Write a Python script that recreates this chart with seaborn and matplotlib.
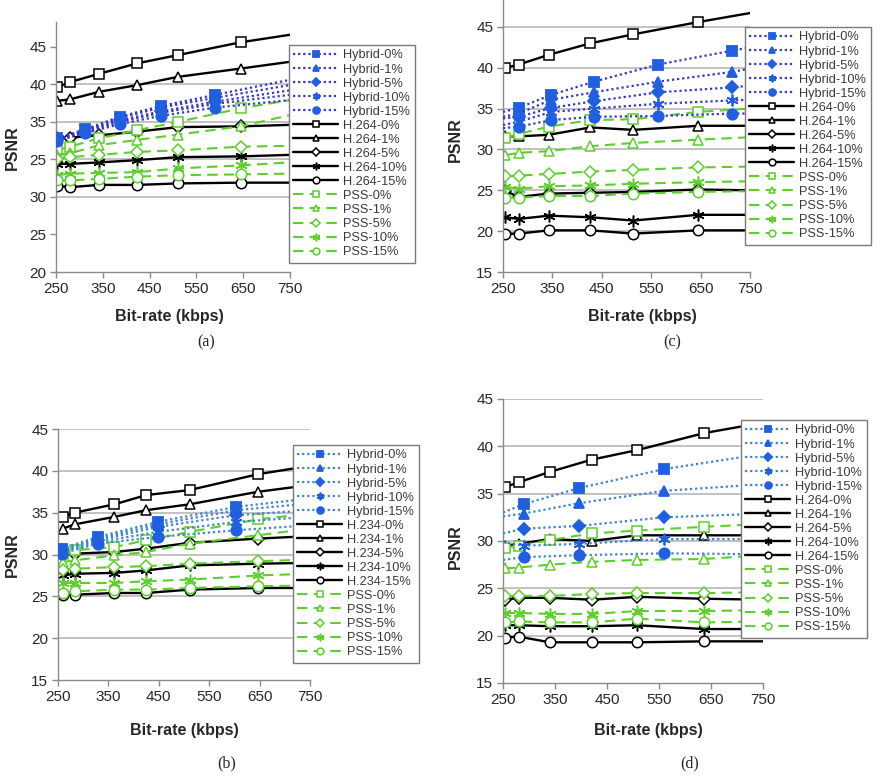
import matplotlib
matplotlib.use('Agg')
import matplotlib.pyplot as plt
from matplotlib.lines import Line2D
import seaborn as sns

LEVELS = ['0%', '1%', '5%', '10%', '15%']

# ---- panel (a) ----
a_x = [253, 280, 342, 424, 511, 645, 750]
a_h264 = [
    [39.6, 40.3, 41.4, 42.8, 43.9, 45.6, 46.6],
    [37.8, 38.0, 39.0, 39.9, 41.0, 42.1, 43.0],
    [32.8, 32.9, 33.2, 33.7, 34.3, 34.4, 34.6],
    [29.4, 29.4, 29.6, 29.9, 30.3, 30.4, 30.6],
    [26.5, 26.3, 26.6, 26.6, 26.8, 26.9, 26.9],
]
a_pss = [
    [31.2, 31.7, 32.8, 33.9, 35.0, 36.8, 37.9],
    [30.6, 30.8, 31.9, 32.6, 33.3, 34.4, 35.9],
    [30.1, 30.3, 30.6, 31.0, 31.2, 31.7, 31.8],
    [27.9, 28.1, 28.2, 28.3, 28.8, 29.2, 29.6],
    [27.2, 27.2, 27.4, 27.7, 27.9, 28.0, 28.1],
]
a_hyb_x = [253, 312, 387, 474, 590, 750]
a_hybrid = [
    [32.8, 34.0, 35.7, 37.1, 38.6, 40.6],
    [32.7, 33.9, 35.5, 36.9, 38.2, 39.9],
    [32.7, 33.8, 35.2, 36.4, 37.7, 39.2],
    [32.6, 33.7, 35.0, 36.2, 37.4, 38.6],
    [32.5, 33.5, 34.7, 35.8, 36.9, 37.9],
]
a_yticklabels = ['20', '25', '30', '25', '35', '40', '45']

# ---- panel (b) ----
b_x = [260, 283, 362, 425, 511, 647, 750]
b_h264 = [
    [34.5, 35.0, 36.0, 37.1, 37.7, 39.6, 40.6],
    [33.1, 33.6, 34.5, 35.3, 36.0, 37.5, 38.3],
    [29.9, 30.1, 30.3, 30.7, 31.4, 31.9, 32.2],
    [27.5, 27.7, 27.8, 28.1, 28.7, 28.9, 29.0],
    [25.2, 25.2, 25.4, 25.4, 25.8, 26.0, 26.0],
]
b_pss = [
    [30.1, 30.5, 30.9, 31.7, 32.7, 34.2, 34.9],
    [29.1, 29.3, 29.9, 30.3, 31.3, 32.3, 33.1],
    [28.2, 28.3, 28.5, 28.6, 28.9, 29.2, 29.4],
    [26.6, 26.6, 26.6, 26.8, 27.0, 27.5, 27.7],
    [25.4, 25.6, 25.8, 25.8, 26.0, 26.2, 26.3],
]
b_hyb_x = [257, 329, 448, 604, 750]
b_hybrid = [
    [30.7, 32.1, 33.9, 35.7, 36.7],
    [30.6, 31.9, 33.6, 35.3, 36.1],
    [30.5, 31.7, 33.3, 34.7, 35.3],
    [30.3, 31.5, 32.7, 33.9, 34.5],
    [30.1, 31.3, 32.1, 32.9, 33.5],
]

# ---- panel (c) ----
c_x = [255, 282, 343, 427, 514, 645, 750]
c_h264 = [
    [40.0, 40.4, 41.6, 43.0, 44.1, 45.6, 46.7],
    [31.6, 31.6, 31.8, 32.7, 32.4, 32.9, 32.9],
    [24.9, 24.2, 24.6, 24.7, 24.8, 25.1, 25.0],
    [21.7, 21.5, 21.9, 21.7, 21.3, 22.0, 22.0],
    [19.7, 19.7, 20.1, 20.1, 19.7, 20.1, 20.1],
]
c_pss = [
    [31.4, 31.9, 32.8, 33.6, 33.7, 34.6, 35.0],
    [29.3, 29.6, 29.8, 30.4, 30.8, 31.2, 31.5],
    [26.7, 26.8, 27.0, 27.3, 27.5, 27.8, 27.9],
    [25.4, 25.2, 25.5, 25.6, 25.8, 26.0, 26.1],
    [24.1, 24.1, 24.3, 24.3, 24.6, 24.8, 24.9],
]
c_hyb_x = [250, 282, 348, 434, 564, 714, 750]
c_hybrid = [
    [34.6, 35.1, 36.7, 38.3, 40.4, 42.1, 42.5],
    [34.0, 34.4, 36.1, 37.0, 38.3, 39.5, 39.9],
    [33.8, 34.0, 35.1, 35.9, 37.0, 37.6, 37.8],
    [33.0, 33.4, 34.6, 35.0, 35.6, 36.0, 36.1],
    [32.6, 32.8, 33.6, 34.0, 34.1, 34.4, 34.4],
]

# ---- panel (d) ----
d_x = [254, 280, 340, 421, 508, 637, 750]
d_h264 = [
    [35.7, 36.2, 37.3, 38.6, 39.6, 41.4, 42.5],
    [29.5, 29.7, 30.2, 30.0, 30.6, 30.6, 30.6],
    [23.8, 24.0, 24.0, 23.8, 24.1, 23.9, 23.8],
    [21.1, 21.1, 21.0, 21.0, 21.1, 20.7, 20.7],
    [19.8, 19.9, 19.3, 19.3, 19.3, 19.4, 19.4],
]
d_pss = [
    [29.3, 29.5, 30.1, 30.8, 31.1, 31.5, 31.8],
    [27.1, 27.2, 27.5, 27.8, 28.0, 28.1, 28.5],
    [24.2, 24.2, 24.2, 24.4, 24.5, 24.5, 24.6],
    [22.4, 22.4, 22.3, 22.3, 22.6, 22.6, 22.7],
    [21.4, 21.5, 21.4, 21.4, 21.8, 21.4, 21.5],
]
d_hyb_x = [250, 290, 397, 560, 750]
d_hybrid = [
    [33.0, 33.9, 35.6, 37.6, 39.2],
    [32.6, 32.9, 34.0, 35.3, 36.0],
    [30.8, 31.3, 31.6, 32.5, 32.9],
    [29.9, 29.5, 29.7, 30.2, 30.2],
    [28.0, 28.3, 28.5, 28.7, 28.6],
]

YTICKS = [15, 20, 25, 30, 35, 40, 45]
XTICKS = [250, 350, 450, 550, 650, 750]

W, H = 885, 779
BLUE = '#1f5fe0'
GREEN = '#5ccf2a'
MARKERS = ['s', '^', 'D', (6, 2, 0), 'o']
MSIZE = [7.2, 7.5, 6, 8.5, 7.5]

panels = [
    dict(cap='(a)', x=a_x, h264=a_h264, pss=a_pss, hx=a_hyb_x, hyb=a_hybrid, codec='H.264',
         box=(56, 22, 290, 272), ylim=(15, 48.3), ytl=a_yticklabels, nogrid=[15, 20, 45],
         leg=(289, 45), xlab=(169, 317), ylab=(12, 148), capxy=(206, 342), hline='#3535d0'),
    dict(cap='(c)', x=c_x, h264=c_h264, pss=c_pss, hx=c_hyb_x, hyb=c_hybrid, codec='H.264',
         box=(503, 0, 750, 272), ylim=(15, 48.3), ytl=None, nogrid=[15],
         leg=(745, 27), xlab=(642, 317), ylab=(455, 140), capxy=(672, 342), hline='#3535d0'),
    dict(cap='(b)', x=b_x, h264=b_h264, pss=b_pss, hx=b_hyb_x, hyb=b_hybrid, codec='H.234',
         box=(58, 429, 310, 680), ylim=(15, 45), ytl=None, nogrid=[15],
         leg=(293, 445), xlab=(184, 731), ylab=(12, 555), capxy=(227, 763), hline='#3b82d8'),
    dict(cap='(d)', x=d_x, h264=d_h264, pss=d_pss, hx=d_hyb_x, hyb=d_hybrid, codec='H.264',
         box=(503, 399, 763, 683), ylim=(15, 45), ytl=None, nogrid=[15],
         leg=(741, 420), xlab=(648, 731), ylab=(455, 547), capxy=(690, 763), hline='#3b82d8'),
]


def inner(xs):
    # points lying on the plot edge are only line continuations, no marker
    return [i for i, v in enumerate(xs) if v not in (250, 750)]


sns.set_style('white')
plt.rcParams['font.family'] = ['Liberation Sans', 'DejaVu Sans']

fig = plt.figure(figsize=(W / 100, H / 100), dpi=100)

for p in panels:
    x0, y0, x1, y1 = p['box']
    ax = fig.add_axes([x0 / W, 1 - y1 / H, (x1 - x0) / W, (y1 - y0) / H])
    handles = []

    for lvl, m, ms, vals in zip(LEVELS, MARKERS, MSIZE, p['hyb']):
        st = dict(color=p['hline'], linestyle=(0, (1, 1.3)), linewidth=1.6, marker=m, markersize=ms,
                  markerfacecolor=BLUE, markeredgecolor=BLUE, markeredgewidth=1.3)
        sns.lineplot(x=p['hx'], y=vals, ax=ax, estimator=None, sort=False,
                     markevery=inner(p['hx']), zorder=3, **st)
        handles.append(Line2D([], [], label=f'Hybrid-{lvl}', **st))

    for lvl, m, ms, vals in zip(LEVELS, MARKERS, MSIZE, p['h264']):
        st = dict(color='black', linestyle='-', linewidth=1.7, marker=m, markersize=ms,
                  markerfacecolor='white', markeredgecolor='black', markeredgewidth=1.1)
        sns.lineplot(x=p['x'], y=vals, ax=ax, estimator=None, sort=False,
                     markevery=inner(p['x']), zorder=2, **st)
        handles.append(Line2D([], [], label=f"{p['codec']}-{lvl}", **st))

    for lvl, m, ms, vals in zip(LEVELS, MARKERS, MSIZE, p['pss']):
        st = dict(color=GREEN, linestyle=(0, (5, 3)), linewidth=1.5, marker=m, markersize=ms,
                  markerfacecolor='white', markeredgecolor=GREEN, markeredgewidth=1.1)
        sns.lineplot(x=p['x'], y=vals, ax=ax, estimator=None, sort=False,
                     markevery=inner(p['x']), zorder=2.5, **st)
        handles.append(Line2D([], [], label=f'PSS-{lvl}', **st))

    ax.set_xlim(250, 750)
    ax.set_ylim(*p['ylim'])
    ax.set_xticks(XTICKS)
    ax.set_yticks(YTICKS)
    if p['ytl'] is not None:
        ax.set_yticklabels(p['ytl'])
    ax.grid(axis='y', color='#bdbdbd', linewidth=1.3)
    ax.set_axisbelow(True)
    for val, gl in zip(YTICKS, ax.get_ygridlines()):
        if val in p['nogrid']:
            gl.set_visible(False)

    for side in ['top', 'right']:
        ax.spines[side].set_visible(False)
    for side in ['left', 'bottom']:
        ax.spines[side].set_color('#8a8a8a')
        ax.spines[side].set_linewidth(1.0)
    ax.tick_params(axis='both', length=4, width=1, color='#8a8a8a', labelsize=11,
                   labelcolor='#262626', pad=3, left=True, bottom=True)

    ax.set_xlabel('Bit-rate (kbps)', fontsize=11.5, fontweight='bold', va='center')
    ax.xaxis.set_label_coords(p['xlab'][0] / W, 1 - p['xlab'][1] / H, transform=fig.transFigure)
    ax.set_ylabel('PSNR', fontsize=11.5, fontweight='bold', va='center')
    ax.yaxis.set_label_coords(p['ylab'][0] / W, 1 - p['ylab'][1] / H, transform=fig.transFigure)

    leg = ax.legend(handles=handles, loc='upper left',
                    bbox_to_anchor=(p['leg'][0] / W, 1 - p['leg'][1] / H),
                    bbox_transform=fig.transFigure, fontsize=9.2, labelspacing=0.16,
                    handlelength=3.5, handletextpad=0.4, borderpad=0.35, borderaxespad=0,
                    markerscale=0.65, frameon=True, fancybox=False, framealpha=1,
                    edgecolor='#7a7a7a', labelcolor='#3a3a3a')
    leg.get_frame().set_linewidth(1.0)
    leg.set_zorder(10)

    fig.text(p['capxy'][0] / W, 1 - p['capxy'][1] / H, p['cap'], ha='center', va='center',
             fontsize=11.5, family=['Liberation Serif', 'DejaVu Serif'], color='#222222')

fig.savefig('out.png', dpi=100)
